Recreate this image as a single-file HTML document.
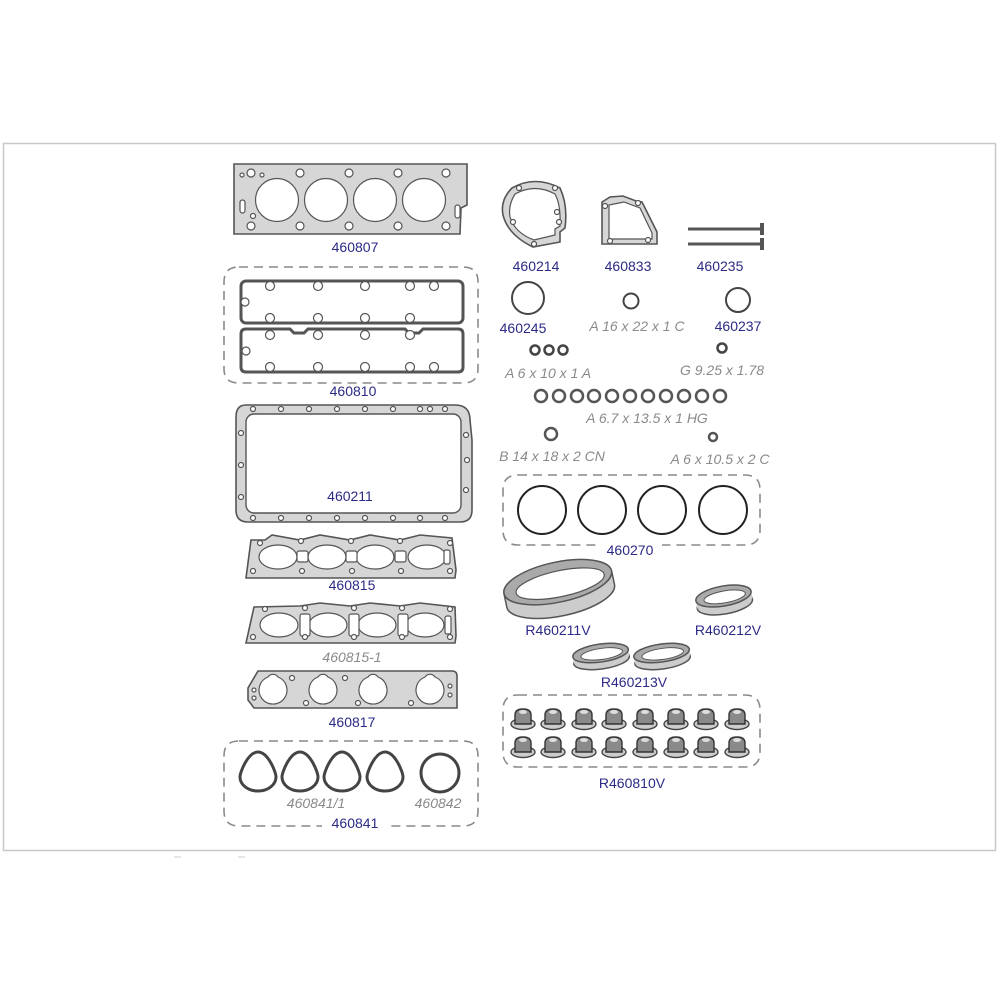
<!DOCTYPE html>
<html><head><meta charset="utf-8"><style>
html,body{margin:0;padding:0;background:#fff;width:1000px;height:1000px;overflow:hidden}
svg{display:block}
.b{font-family:"Liberation Sans",Arial,sans-serif;font-size:14px;fill:#2b2a86;text-anchor:middle}
.g{font-family:"Liberation Sans",Arial,sans-serif;font-size:14px;fill:#8a8a8a;font-style:italic;text-anchor:middle}
.d{fill:none;stroke:#8a8a8a;stroke-width:1.6;stroke-dasharray:9 6}
.gk{fill:#d6d6d6;stroke:#555;stroke-width:1.6}
.h{fill:#fff;stroke:#555;stroke-width:1.2}
.r{fill:none;stroke:#444;stroke-width:2}
</style></head><body>
<svg width="1000" height="1000" viewBox="0 0 1000 1000" xmlns="http://www.w3.org/2000/svg">
<rect x="3.5" y="143.5" width="992" height="707" fill="none" stroke="#c8c8c8" stroke-width="1.5"/>
<line x1="174" y1="857" x2="181" y2="857" stroke="#ccc"/><line x1="238" y1="857" x2="245" y2="857" stroke="#ccc"/>

<!-- head gasket -->
<path class="gk" d="M234,164 H467 V205 L461,208 L460,234 H234 Z"/>
<g class="h"><circle cx="277" cy="200" r="21.5"/><circle cx="326" cy="200" r="21.5"/><circle cx="375" cy="200" r="21.5"/><circle cx="424" cy="200" r="21.5"/>
<circle cx="251" cy="173" r="4"/><circle cx="300" cy="173" r="4"/><circle cx="349" cy="173" r="4"/><circle cx="398" cy="173" r="4"/><circle cx="446" cy="173" r="4"/>
<circle cx="251" cy="226" r="4"/><circle cx="300" cy="226" r="4"/><circle cx="349" cy="226" r="4"/><circle cx="398" cy="226" r="4"/><circle cx="446" cy="226" r="4"/>
<circle cx="242" cy="175" r="2"/><circle cx="262" cy="175" r="2"/><circle cx="253" cy="216" r="2.5"/>
<rect x="240" y="200" width="5" height="13" rx="2.5"/><rect x="455" y="205" width="5" height="13" rx="2.5"/></g>
<text class="b" x="355" y="252">460807</text>

<!-- valve covers -->
<path class="d" d="M239,267 H463 Q478,267 478,282 V369 Q478,383 463,383 H239 Q224,383 224,369 V282 Q224,267 239,267Z"/>
<rect x="241" y="281" width="222" height="42" rx="5" fill="#fff" stroke="#555" stroke-width="3"/>
<path d="M241,334 Q241,329 246,329 H290 l4,4 h10 l4,-4 H405 l4,4 h10 l4,-4 H458 Q463,329 463,334 V367 Q463,372 458,372 H246 Q241,372 241,367Z" fill="#fff" stroke="#555" stroke-width="3"/>
<g class="h" stroke-width="1.6"><circle cx="270" cy="286" r="4.5"/><circle cx="318" cy="286" r="4.5"/><circle cx="365" cy="286" r="4.5"/><circle cx="410" cy="286" r="4.5"/><circle cx="434" cy="286" r="4.5"/>
<circle cx="270" cy="318" r="4.5"/><circle cx="318" cy="318" r="4.5"/><circle cx="365" cy="318" r="4.5"/><circle cx="410" cy="318" r="4.5"/>
<circle cx="270" cy="335" r="4.5"/><circle cx="318" cy="335" r="4.5"/><circle cx="365" cy="335" r="4.5"/><circle cx="410" cy="335" r="4.5"/>
<circle cx="270" cy="367" r="4.5"/><circle cx="318" cy="367" r="4.5"/><circle cx="365" cy="367" r="4.5"/><circle cx="410" cy="367" r="4.5"/><circle cx="434" cy="367" r="4.5"/>
<circle cx="245" cy="302" r="4"/><circle cx="246" cy="351" r="4"/></g>
<text class="b" x="353" y="396">460810</text>

<!-- oil pan -->
<path class="gk" d="M246,405 H455 Q470,405 470,420 L472,440 V510 Q472,522 460,522 H248 Q236,522 236,510 V417 Q236,405 246,405Z"/>
<rect x="246" y="414" width="215" height="99" rx="8" fill="#fff" stroke="#555" stroke-width="1.4"/>
<g class="h"><circle cx="253" cy="409" r="2.5"/><circle cx="281" cy="409" r="2.5"/><circle cx="309" cy="409" r="2.5"/><circle cx="337" cy="409" r="2.5"/><circle cx="365" cy="409" r="2.5"/><circle cx="393" cy="409" r="2.5"/><circle cx="420" cy="409" r="2.5"/><circle cx="430" cy="409" r="2.5"/><circle cx="445" cy="409" r="2.5"/>
<circle cx="253" cy="518" r="2.5"/><circle cx="281" cy="518" r="2.5"/><circle cx="309" cy="518" r="2.5"/><circle cx="337" cy="518" r="2.5"/><circle cx="365" cy="518" r="2.5"/><circle cx="393" cy="518" r="2.5"/><circle cx="420" cy="518" r="2.5"/><circle cx="445" cy="518" r="2.5"/>
<circle cx="241" cy="433" r="2.5"/><circle cx="241" cy="465" r="2.5"/><circle cx="241" cy="497" r="2.5"/><circle cx="466" cy="435" r="2.5"/><circle cx="467" cy="460" r="2.5"/><circle cx="466" cy="490" r="2.5"/></g>
<text class="b" x="350" y="501">460211</text>

<!-- 460815 -->
<path class="gk" d="M251,540 L265,540 L272,535 L300,540 L320,535 L350,540 L370,535 L400,540 L420,535 L452,538 L456,570 L455,578 H246 Z"/>
<g class="h"><ellipse cx="278" cy="557" rx="19" ry="12"/><ellipse cx="327" cy="557" rx="19" ry="12"/><ellipse cx="375" cy="557" rx="19" ry="12"/><ellipse cx="427" cy="557" rx="19" ry="12"/>
<rect x="297" y="551" width="11" height="11" rx="2"/><rect x="346" y="551" width="11" height="11" rx="2"/><rect x="395" y="551" width="11" height="11" rx="2"/><rect x="444" y="550" width="6" height="14" rx="2"/>
<circle cx="260" cy="543" r="2.5"/><circle cx="301" cy="541" r="2.5"/><circle cx="351" cy="541" r="2.5"/><circle cx="400" cy="541" r="2.5"/><circle cx="450" cy="543" r="2.5"/>
<circle cx="253" cy="571" r="2.5"/><circle cx="302" cy="571" r="2.5"/><circle cx="352" cy="571" r="2.5"/><circle cx="401" cy="571" r="2.5"/><circle cx="450" cy="571" r="2.5"/></g>
<text class="b" x="352" y="590">460815</text>

<!-- 460815-1 -->
<path class="gk" d="M254,607 L300,606 L320,603 L350,606 L370,603 L400,606 L420,603 L455,607 L456,636 L455,643 H246 Z"/>
<g class="h"><ellipse cx="279" cy="625" rx="19" ry="12"/><ellipse cx="328" cy="625" rx="19" ry="12"/><ellipse cx="377" cy="625" rx="19" ry="12"/><ellipse cx="425" cy="625" rx="19" ry="12"/>
<rect x="300" y="614" width="10" height="22" rx="2"/><rect x="349" y="614" width="10" height="22" rx="2"/><rect x="398" y="614" width="10" height="22" rx="2"/><rect x="445" y="616" width="6" height="18" rx="2"/>
<circle cx="265" cy="609" r="2.5"/><circle cx="305" cy="608" r="2.5"/><circle cx="354" cy="608" r="2.5"/><circle cx="402" cy="608" r="2.5"/><circle cx="450" cy="609" r="2.5"/>
<circle cx="253" cy="637" r="2.5"/><circle cx="305" cy="637" r="2.5"/><circle cx="354" cy="637" r="2.5"/><circle cx="402" cy="637" r="2.5"/><circle cx="450" cy="637" r="2.5"/></g>
<text class="g" x="352" y="662">460815-1</text>

<!-- 460817 -->
<path class="gk" d="M258,671 H452 Q457,671 457,676 V708 H254 L248,700 V688 Z"/>
<g class="h"><path d="M268,677 a6,6 0 0 1 10,0 a14,14 0 1 1 -10,0Z"/><path d="M318,677 a6,6 0 0 1 10,0 a14,14 0 1 1 -10,0Z"/><path d="M368,677 a6,6 0 0 1 10,0 a14,14 0 1 1 -10,0Z"/><path d="M425,677 a6,6 0 0 1 10,0 a14,14 0 1 1 -10,0Z"/>
<circle cx="292" cy="678" r="2.5"/><circle cx="345" cy="678" r="2.5"/><circle cx="306" cy="703" r="2.5"/><circle cx="358" cy="703" r="2.5"/><circle cx="411" cy="703" r="2.5"/><circle cx="254" cy="690" r="2"/><circle cx="254" cy="698" r="2"/><circle cx="450" cy="686" r="2"/><circle cx="450" cy="695" r="2"/></g>
<text class="b" x="352" y="727">460817</text>

<!-- 460841 -->
<path class="d" d="M239,741 H463 Q478,741 478,756 V811 Q478,826 463,826 H239 Q224,826 224,811 V756 Q224,741 239,741Z"/>
<rect x="322" y="815" width="64" height="14" fill="#fff"/>
<g fill="none" stroke="#444" stroke-width="3"><path d="M258,752 C268,752 276,772 276,777 A18,14 0 1 1 240,777 C240,772 248,752 258,752Z"/><path d="M300,752 C310,752 318,772 318,777 A18,14 0 1 1 282,777 C282,772 290,752 300,752Z"/><path d="M342,752 C352,752 360,772 360,777 A18,14 0 1 1 324,777 C324,772 332,752 342,752Z"/><path d="M385,752 C395,752 403,772 403,777 A18,14 0 1 1 367,777 C367,772 375,752 385,752Z"/><circle cx="440" cy="773" r="19"/></g>
<text class="g" x="316" y="808">460841/1</text><text class="g" x="438" y="808">460842</text>
<text class="b" x="355" y="828">460841</text>

<!-- right top -->
<path class="gk" d="M512,188 Q500,200 503,215 Q508,235 533,247 L560,242 V232 L565,228 Q568,205 560,188 Q535,175 512,188Z"/>
<path d="M515,194 Q508,205 510,217 Q515,233 534,240 L555,235 V229 L560,226 Q561,205 555,194 Q535,183 515,194Z" fill="#fff" stroke="#555" stroke-width="1.2"/>
<g class="h"><circle cx="519" cy="188" r="2.5"/><circle cx="555" cy="188" r="2.5"/><circle cx="513" cy="222" r="2.5"/><circle cx="559" cy="222" r="2.5"/><circle cx="534" cy="244" r="2.5"/><circle cx="557" cy="212" r="2.5"/></g>
<path class="gk" d="M602,202 L610,197 L623,196 L636,201 L642,202 L657,232 V244 H602 Z"/>
<path d="M609,205 L624,202 L640,208 L652,233 V239 H609Z" fill="#fff" stroke="#555" stroke-width="1.2"/>
<g class="h"><circle cx="605" cy="206" r="2.5"/><circle cx="638" cy="203" r="2.5"/><circle cx="610" cy="241" r="2.5"/><circle cx="648" cy="240" r="2.5"/></g>
<g stroke="#555" stroke-width="3"><line x1="688" y1="229" x2="762" y2="229"/><line x1="688" y1="244" x2="762" y2="244"/><line x1="762" y1="223" x2="762" y2="235" stroke-width="4"/><line x1="762" y1="238" x2="762" y2="250" stroke-width="4"/></g>
<text class="b" x="536" y="271">460214</text><text class="b" x="628" y="271">460833</text><text class="b" x="720" y="271">460235</text>

<g class="r" stroke-width="3"><circle cx="528" cy="298" r="16"/><circle cx="631" cy="301" r="7.5"/><circle cx="738" cy="300" r="12"/>
<circle cx="535" cy="350" r="4.5" stroke-width="2.5"/><circle cx="549" cy="350" r="4.5" stroke-width="2.5"/><circle cx="563" cy="350" r="4.5" stroke-width="2.5"/><circle cx="722" cy="348" r="4.5" stroke-width="2.5"/></g>
<text class="b" x="523" y="333">460245</text><text class="g" x="637" y="331">A 16 x 22 x 1 C</text><text class="b" x="738" y="331">460237</text>
<text class="g" x="548" y="378">A 6 x 10 x 1 A</text><text class="g" x="722" y="375">G 9.25 x 1.78</text>
<g fill="none" stroke="#555" stroke-width="2.5"><circle cx="541" cy="396" r="6"/><circle cx="559" cy="396" r="6"/><circle cx="577" cy="396" r="6"/><circle cx="594" cy="396" r="6"/><circle cx="612" cy="396" r="6"/><circle cx="630" cy="396" r="6"/><circle cx="648" cy="396" r="6"/><circle cx="666" cy="396" r="6"/><circle cx="684" cy="396" r="6"/><circle cx="702" cy="396" r="6"/><circle cx="720" cy="396" r="6"/>
<circle cx="551" cy="434" r="6"/><circle cx="713" cy="437" r="4"/></g>
<text class="g" x="647" y="423">A 6.7 x 13.5 x 1 HG</text>
<text class="g" x="552" y="461">B 14 x 18 x 2 CN</text><text class="g" x="720" y="464">A 6 x 10.5 x 2 C</text>

<!-- 460270 -->
<path class="d" d="M518,475 H745 Q760,475 760,490 V530 Q760,545 745,545 H518 Q503,545 503,530 V490 Q503,475 518,475Z"/>
<rect x="598" y="538" width="64" height="14" fill="#fff"/>
<g fill="none" stroke="#222" stroke-width="2"><circle cx="542" cy="510" r="24"/><circle cx="602" cy="510" r="24"/><circle cx="662" cy="510" r="24"/><circle cx="723" cy="510" r="24"/></g>
<text class="b" x="630" y="555">460270</text>

<!-- seals -->
<g transform="rotate(-12 559 588)">
<ellipse cx="559" cy="596" rx="55" ry="20" fill="#ccc" stroke="#555" stroke-width="1.5"/>
<rect x="504" y="582" width="110" height="14" fill="#ccc"/>
<line x1="504" y1="582" x2="504" y2="596" stroke="#555" stroke-width="1.5"/><line x1="614" y1="582" x2="614" y2="596" stroke="#555" stroke-width="1.5"/>
<ellipse cx="559" cy="582" rx="55" ry="20" fill="#aaa" stroke="#555" stroke-width="1.5"/>
<ellipse cx="561" cy="584" rx="45" ry="13" fill="#fff" stroke="#555" stroke-width="1.2"/>
</g>
<g transform="rotate(-10 724 599)">
<ellipse cx="724" cy="604" rx="28" ry="10" fill="#ccc" stroke="#555" stroke-width="1.5"/>
<rect x="696" y="596" width="56" height="8" fill="#ccc"/>
<ellipse cx="724" cy="596" rx="28" ry="10" fill="#aaa" stroke="#555" stroke-width="1.5"/>
<ellipse cx="725" cy="597" rx="21" ry="6" fill="#fff" stroke="#555"/>
</g>
<g transform="rotate(-8 601 656)">
<ellipse cx="601" cy="660" rx="28" ry="9" fill="#ccc" stroke="#555" stroke-width="1.5"/>
<rect x="573" y="653" width="56" height="7" fill="#ccc"/>
<ellipse cx="601" cy="653" rx="28" ry="9" fill="#aaa" stroke="#555" stroke-width="1.5"/>
<ellipse cx="602" cy="654" rx="21" ry="5.5" fill="#fff" stroke="#555"/>
</g>
<g transform="rotate(-8 662 656)">
<ellipse cx="662" cy="660" rx="28" ry="9" fill="#ccc" stroke="#555" stroke-width="1.5"/>
<rect x="634" y="653" width="56" height="7" fill="#ccc"/>
<ellipse cx="662" cy="653" rx="28" ry="9" fill="#aaa" stroke="#555" stroke-width="1.5"/>
<ellipse cx="663" cy="654" rx="21" ry="5.5" fill="#fff" stroke="#555"/>
</g>
<text class="b" x="558" y="635">R460211V</text><text class="b" x="728" y="635">R460212V</text><text class="b" x="634" y="687">R460213V</text>

<!-- valve stem seals -->
<path class="d" d="M518,695 H745 Q760,695 760,710 V752 Q760,767 745,767 H518 Q503,767 503,752 V710 Q503,695 518,695Z"/>
<defs><g id="vs"><ellipse cx="0" cy="6" rx="12" ry="5.5" fill="#ccc" stroke="#444" stroke-width="1.4"/><path d="M-8,6 V-3 Q-8,-9 0,-9 Q8,-9 8,-3 V6Z" fill="#8a8a8a" stroke="#333" stroke-width="1.4"/><ellipse cx="0" cy="-6" rx="4" ry="2" fill="#ddd"/></g></defs>
<g><use href="#vs" x="523" y="718"/><use href="#vs" x="553" y="718"/><use href="#vs" x="584" y="718"/><use href="#vs" x="614" y="718"/><use href="#vs" x="645" y="718"/><use href="#vs" x="676" y="718"/><use href="#vs" x="706" y="718"/><use href="#vs" x="737" y="718"/>
<use href="#vs" x="523" y="746"/><use href="#vs" x="553" y="746"/><use href="#vs" x="584" y="746"/><use href="#vs" x="614" y="746"/><use href="#vs" x="645" y="746"/><use href="#vs" x="676" y="746"/><use href="#vs" x="706" y="746"/><use href="#vs" x="737" y="746"/></g>
<text class="b" x="632" y="788">R460810V</text>
</svg>
</body></html>
